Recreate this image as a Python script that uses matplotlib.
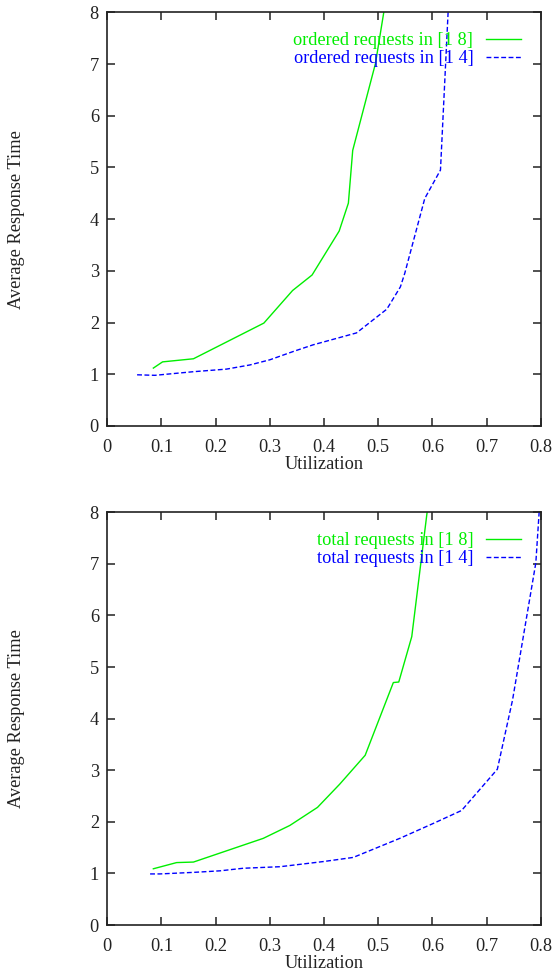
import matplotlib
matplotlib.use("Agg")
import matplotlib.pyplot as plt
from matplotlib.ticker import MultipleLocator

plt.rcParams['font.family'] = ['Liberation Serif', 'DejaVu Serif']

# Top panel: ordered requests
ord18_x = [0.085, 0.102, 0.159, 0.289, 0.342, 0.378, 0.428, 0.445, 0.453, 0.495, 0.515]
ord18_y = [1.12, 1.24, 1.30, 1.99, 2.62, 2.92, 3.77, 4.31, 5.33, 7.01, 8.30]
ord14_x = [0.055, 0.088, 0.108, 0.159, 0.220, 0.263, 0.300, 0.343, 0.380, 0.460,
           0.516, 0.541, 0.549, 0.586, 0.615, 0.630]
ord14_y = [0.99, 0.98, 1.00, 1.05, 1.10, 1.18, 1.28, 1.44, 1.57, 1.80,
           2.26, 2.69, 2.95, 4.40, 4.95, 8.20]

# Bottom panel: total requests
tot18_x = [0.085, 0.128, 0.159, 0.288, 0.337, 0.388, 0.429, 0.476, 0.528, 0.538,
           0.562, 0.595]
tot18_y = [1.09, 1.21, 1.22, 1.68, 1.93, 2.28, 2.73, 3.29, 4.70, 4.71, 5.59, 8.40]
tot14_x = [0.079, 0.097, 0.159, 0.208, 0.251, 0.319, 0.399, 0.454, 0.540, 0.602,
           0.654, 0.720, 0.748, 0.791, 0.799]
tot14_y = [0.99, 0.99, 1.02, 1.05, 1.10, 1.13, 1.23, 1.31, 1.68, 1.97,
           2.22, 3.02, 4.36, 7.02, 8.30]

labels_top = ["ordered requests in [1 8]", "ordered requests in [1 4]"]
labels_bot = ["total requests in [1 8]", "total requests in [1 4]"]

GREEN = '#00ee00'
BLUE = '#0000ff'
AXC = '#222222'
FS = 13.2

fig = plt.figure(figsize=(5.52, 9.75), dpi=100)
W, H = 552, 975
L, R = 107.3, 540.7
panels = [(12.3, 426.0), (512.3, 925.0)]


def make_ax(top, bot, x1, y1, x2, y2, labels):
    ax = fig.add_axes([L / W, 1 - bot / H, (R - L) / W, (bot - top) / H])
    ax.plot(x1, y1, color=GREEN, lw=1.0, label=labels[0])
    ax.plot(x2, y2, color=BLUE, lw=1.0, dashes=(3.5, 1.8), label=labels[1])
    ax.set_xlim(0, 0.8)
    ax.set_ylim(0, 8)
    ax.yaxis.set_major_locator(MultipleLocator(1))
    ax.set_xticks([0, 0.1, 0.2, 0.3, 0.4, 0.5, 0.6, 0.7, 0.8])
    ax.set_xticklabels(['0', '0.1', '0.2', '0.3', '0.4', '0.5', '0.6', '0.7', '0.8'])
    ax.tick_params(direction='in', length=5.5, width=1.1, top=True, right=True,
                   labelsize=FS, colors=AXC, pad=6)
    ax.tick_params(axis='x', pad=9.5)
    for s in ax.spines.values():
        s.set_linewidth(1.2)
        s.set_color(AXC)
    ax.set_xlabel('Utilization', fontsize=FS, color=AXC, labelpad=0)
    ax.set_ylabel('Average Response Time', fontsize=FS, color=AXC, labelpad=0)
    ax.yaxis.set_label_coords(-(L - 25) / (R - L), 0.5)
    leg = ax.legend(loc='upper right', frameon=False, markerfirst=False,
                    fontsize=FS, labelcolor='linecolor', handlelength=1.9,
                    handletextpad=0.7, labelspacing=0.05, borderpad=0,
                    borderaxespad=0,
                    bbox_to_anchor=((521 - L) / (R - L), 1 - 20 / (bot - top)))
    for t in leg.get_texts():
        t.set_ha('right')
    return ax


make_ax(panels[0][0], panels[0][1], ord18_x, ord18_y, ord14_x, ord14_y, labels_top)
make_ax(panels[1][0], panels[1][1], tot18_x, tot18_y, tot14_x, tot14_y, labels_bot)

fig.savefig('out.png', dpi=100)
